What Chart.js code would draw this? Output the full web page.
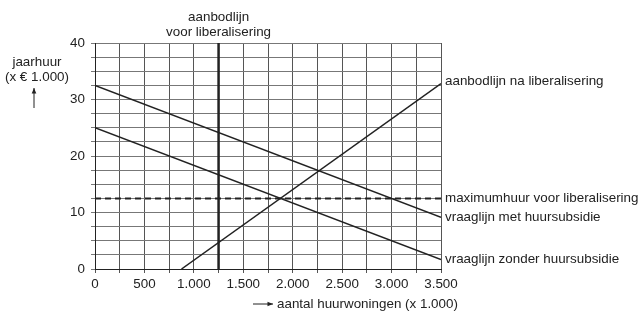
<!DOCTYPE html>
<html lang="nl">
<head>
<meta charset="UTF-8">
<title>Huurwoningen</title>
<script src="https://cdn.jsdelivr.net/npm/chart.js"></script>
<style>
    html, body { margin: 0; padding: 0; background: #fff; }
    #wrap { width: 644px; height: 321px; }
</style>
</head>
<body>
<div id="wrap"><canvas id="c" width="644" height="321"></canvas></div>
<script>
    // values
    const xTicks = [0, 500, 1000, 1500, 2000, 2500, 3000, 3500];
    const yTicks = [0, 10, 20, 30, 40];

    const vraagMetX = [0, 3500];
    const vraagMetY = [32.5, 9.17];
    const vraagZonderX = [0, 3500];
    const vraagZonderY = [25, 1.67];
    const aanbodNaX = [875, 3500];
    const aanbodNaY = [0, 32.8];
    const aanbodVoorX = [1250, 1250];
    const aanbodVoorY = [0, 40];
    const maxHuurX = [0, 3500];
    const maxHuurY = [12.5, 12.5];

    const rightLabels = [
        { text: 'aanbodlijn na liberalisering', value: 33.2 },
        { text: 'maximumhuur voor liberalisering', value: 12.5 },
        { text: 'vraaglijn met huursubsidie', value: 9.17 },
        { text: 'vraaglijn zonder huursubsidie', value: 1.67 }
    ];

    function pts(xs, ys) {
        return xs.map((x, i) => ({ x: x, y: ys[i] }));
    }

    function fmt(v) {
        return v.toLocaleString('de-DE');
    }

    const FAMILY = '"Liberation Sans", Arial, sans-serif';
    const FONT = '13.4px ' + FAMILY;
    const INK = '#222';

    function arrow(ctx, x1, y1, x2, y2) {
        ctx.beginPath();
        ctx.moveTo(x1, y1);
        ctx.lineTo(x2, y2);
        ctx.stroke();
        const a = Math.atan2(y2 - y1, x2 - x1);
        ctx.beginPath();
        ctx.moveTo(x2, y2);
        ctx.lineTo(x2 - 6 * Math.cos(a - 0.4), y2 - 6 * Math.sin(a - 0.4));
        ctx.lineTo(x2 - 6 * Math.cos(a + 0.4), y2 - 6 * Math.sin(a + 0.4));
        ctx.closePath();
        ctx.fill();
    }

    const textPlugin = {
        id: 'texts',
        afterDraw(chart) {
            const ctx = chart.ctx;
            const xs = chart.scales.x;
            const ys = chart.scales.y;
            const area = chart.chartArea;
            ctx.save();
            ctx.font = FONT;
            ctx.fillStyle = INK;
            ctx.strokeStyle = INK;
            ctx.lineWidth = 1;

            // labels to the right of the lines
            ctx.textAlign = 'left';
            ctx.textBaseline = 'middle';
            rightLabels.forEach(l => {
                ctx.fillText(l.text, area.right + 4, ys.getPixelForValue(l.value));
            });

            // title above the vertical line
            ctx.textAlign = 'center';
            const cx = xs.getPixelForValue(1250);
            ctx.fillText('aanbodlijn', cx, 17);
            ctx.fillText('voor liberalisering', cx, 32);

            // y axis title
            ctx.fillText('jaarhuur', 37, 62);
            ctx.fillText('(x \u20AC 1.000)', 37, 77);
            arrow(ctx, 34, 108, 34, 88);

            // x axis title
            ctx.textAlign = 'left';
            ctx.fillText('aantal huurwoningen (x 1.000)', 277, 304);
            arrow(ctx, 253, 304, 273, 304);
            ctx.restore();
        }
    };

    const lineStyle = { showLine: true, pointRadius: 0, borderColor: INK, fill: false };

    new Chart(document.getElementById('c'), {
        type: 'scatter',
        data: {
            datasets: [
                Object.assign({ data: pts(vraagMetX, vraagMetY), borderWidth: 1.5 }, lineStyle),
                Object.assign({ data: pts(vraagZonderX, vraagZonderY), borderWidth: 1.5 }, lineStyle),
                Object.assign({ data: pts(aanbodNaX, aanbodNaY), borderWidth: 1.5 }, lineStyle),
                Object.assign({ data: pts(aanbodVoorX, aanbodVoorY), borderWidth: 2.5, borderColor: '#000' }, lineStyle),
                Object.assign({ data: pts(maxHuurX, maxHuurY), borderWidth: 2, borderDash: [6, 4] }, lineStyle)
            ]
        },
        options: {
            responsive: false,
            animation: false,
            layout: { padding: { left: 0, right: 203, top: 43, bottom: 0 } },
            plugins: { legend: { display: false }, tooltip: { enabled: false } },
            scales: {
                x: {
                    type: 'linear',
                    min: 0,
                    max: 3500,
                    afterFit(s) { s.height = 52; },
                    afterBuildTicks(s) {
                        const t = [];
                        for (let v = 0; v <= 3500; v += 250) t.push({ value: v });
                        s.ticks = t;
                    },
                    ticks: {
                        autoSkip: false,
                        maxRotation: 0,
                        padding: 3,
                        color: INK,
                        font: { family: FAMILY, size: 13.4 },
                        callback: v => xTicks.includes(v) ? fmt(v) : ''
                    },
                    grid: { color: '#555', lineWidth: 1, tickLength: 4 },
                    border: { color: INK, width: 1 }
                },
                y: {
                    min: 0,
                    max: 40,
                    afterFit(s) { s.width = 95; },
                    afterBuildTicks(s) {
                        const t = [];
                        for (let v = 0; v <= 40; v += 2.5) t.push({ value: v });
                        s.ticks = t;
                    },
                    ticks: {
                        autoSkip: false,
                        padding: 6,
                        color: INK,
                        font: { family: FAMILY, size: 13.4 },
                        callback: v => yTicks.includes(v) ? String(v) : ''
                    },
                    grid: { color: '#777', lineWidth: 1, tickLength: 4 },
                    border: { color: INK, width: 1 }
                }
            }
        },
        plugins: [textPlugin]
    });
</script>
</body>
</html>
